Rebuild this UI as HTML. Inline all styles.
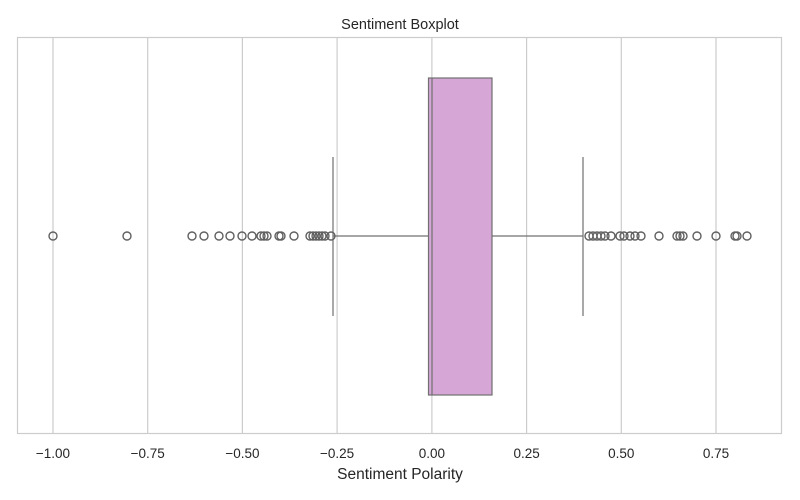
<!DOCTYPE html>
<html><head><meta charset="utf-8"><style>body{margin:0;background:#fff}svg{display:block;font-family:"Liberation Sans",sans-serif}</style></head><body>
<svg width="800" height="500" viewBox="0 0 800 500">
<rect x="17.5" y="37.5" width="764" height="396" fill="#fff" stroke="#cccccc" stroke-width="1.2"/>
<g stroke="#cccccc" stroke-width="1.2">
<line x1="53" y1="38" x2="53" y2="433"/><line x1="147.7" y1="38" x2="147.7" y2="433"/><line x1="242.4" y1="38" x2="242.4" y2="433"/><line x1="337.1" y1="38" x2="337.1" y2="433"/><line x1="431.9" y1="38" x2="431.9" y2="433"/><line x1="526.6" y1="38" x2="526.6" y2="433"/><line x1="621.3" y1="38" x2="621.3" y2="433"/><line x1="716" y1="38" x2="716" y2="433"/>
</g>
<g stroke="#707070" stroke-width="1.2" fill="none">
<line x1="333" y1="236" x2="428" y2="236"/><line x1="492" y1="236" x2="583" y2="236"/>
<line x1="333" y1="157" x2="333" y2="316"/><line x1="583" y1="157" x2="583" y2="316"/>
<rect x="428.5" y="78" width="63.5" height="317" fill="#d5a6d6"/>
<line x1="432" y1="78" x2="432" y2="395"/>
</g>
<g stroke="#606060" stroke-width="1.4" fill="none">
<circle cx="53" cy="236" r="4"/><circle cx="127" cy="236" r="4"/>
<circle cx="192" cy="236" r="4"/><circle cx="204" cy="236" r="4"/><circle cx="219" cy="236" r="4"/><circle cx="230" cy="236" r="4"/><circle cx="242" cy="236" r="4"/><circle cx="252" cy="236" r="4"/><circle cx="261" cy="236" r="4"/><circle cx="264" cy="236" r="4"/><circle cx="267" cy="236" r="4"/><circle cx="279" cy="236" r="4"/><circle cx="281" cy="236" r="4"/><circle cx="294" cy="236" r="4"/><circle cx="310" cy="236" r="4"/><circle cx="313" cy="236" r="4"/><circle cx="316" cy="236" r="4"/><circle cx="319" cy="236" r="4"/><circle cx="322" cy="236" r="4"/><circle cx="325" cy="236" r="4"/><circle cx="331" cy="236" r="4"/>
<circle cx="589" cy="236" r="4"/><circle cx="593" cy="236" r="4"/><circle cx="597" cy="236" r="4"/><circle cx="601" cy="236" r="4"/><circle cx="605" cy="236" r="4"/><circle cx="611" cy="236" r="4"/><circle cx="620" cy="236" r="4"/><circle cx="624" cy="236" r="4"/><circle cx="630" cy="236" r="4"/><circle cx="635" cy="236" r="4"/><circle cx="641" cy="236" r="4"/><circle cx="659" cy="236" r="4"/><circle cx="677" cy="236" r="4"/><circle cx="680" cy="236" r="4"/><circle cx="683" cy="236" r="4"/><circle cx="697" cy="236" r="4"/><circle cx="716" cy="236" r="4"/><circle cx="735" cy="236" r="4"/><circle cx="737" cy="236" r="4"/><circle cx="747" cy="236" r="4"/>
</g>
<g font-size="13.5" fill="#262626" text-anchor="middle">
<text x="53" y="458">−1.00</text><text x="147.7" y="458">−0.75</text><text x="242.4" y="458">−0.50</text><text x="337.1" y="458">−0.25</text><text x="431.9" y="458">0.00</text><text x="526.6" y="458">0.25</text><text x="621.3" y="458">0.50</text><text x="716" y="458">0.75</text>
<text x="400" y="479" font-size="15.5">Sentiment Polarity</text>
<text x="400" y="29" font-size="14.5">Sentiment Boxplot</text>
</g>
</svg>
</body></html>
